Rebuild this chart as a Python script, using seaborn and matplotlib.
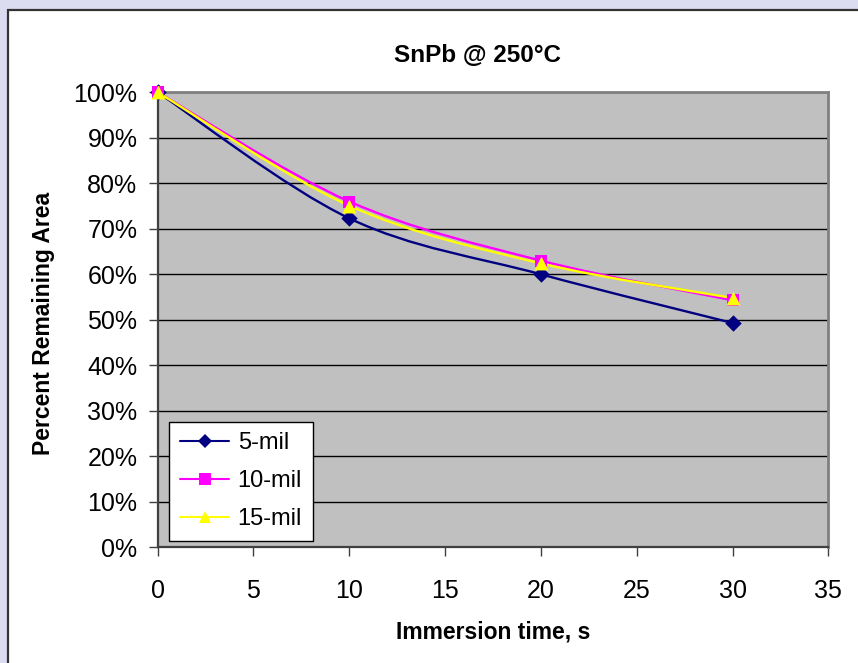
import numpy as np
import pandas as pd
import matplotlib
matplotlib.use("Agg")
import matplotlib.pyplot as plt
import seaborn as sns
from matplotlib.path import Path
from matplotlib.patches import PathPatch, Rectangle
from matplotlib.lines import Line2D
from matplotlib.ticker import PercentFormatter, FixedLocator

# Immersion times (s) and remaining area (%) for each trace width
times = [0, 10, 20, 30]
mil5 = [100.0, 72.3, 60.0, 49.3]
mil10 = [100.0, 76.0, 63.0, 54.3]
mil15 = [100.0, 75.1, 62.4, 54.8]
series_names = ["5-mil", "10-mil", "15-mil"]
x_ticks = [0, 5, 10, 15, 20, 25, 30, 35]
y_ticks = [0, 10, 20, 30, 40, 50, 60, 70, 80, 90, 100]

title = "SnPb @ 250°C"
x_label = "Immersion time, s"
y_label = "Percent Remaining Area"

colors = {"5-mil": "#000080", "10-mil": "#FF00FF", "15-mil": "#FFFF00"}
markers = {"5-mil": "D", "10-mil": "s", "15-mil": "^"}
marker_sizes = {"5-mil": 70, "10-mil": 70, "15-mil": 100}

sns.set_style("white")
plt.rcParams["font.family"] = ["Liberation Sans", "DejaVu Sans"]
plt.rcParams["text.color"] = "black"
plt.rcParams["xtick.color"] = "black"
plt.rcParams["ytick.color"] = "black"

df = pd.DataFrame({
    "time": times * 3,
    "pct": mil5 + mil10 + mil15,
    "series": [s for s in series_names for _ in times],
})

W, H = 858, 663
fig = plt.figure(figsize=(W / 100, H / 100), dpi=100)
fig.set_facecolor("#DCDCF0")

# white chart area with dark frame
frame = Rectangle((8 / W, -0.02), 1.05, (H - 10) / H + 0.02,
                  transform=fig.transFigure, facecolor="white",
                  edgecolor="#333333", linewidth=1.6, zorder=-10)
fig.patches.append(frame)

x0, x1 = 157.6, 828.4
y0, y1 = 547.3, 92.3
ax = fig.add_axes([x0 / W, 1 - y0 / H, (x1 - x0) / W, (y0 - y1) / H])
ax.set_zorder(1)
ax.set_facecolor("#C0C0C0")


def smooth_path(xs, ys):
    """Bezier path through the points, Catmull-Rom style smoothing."""
    pts = np.column_stack([xs, ys]).astype(float)
    n = len(pts)
    verts = [pts[0]]
    codes = [Path.MOVETO]
    for i in range(n - 1):
        p0 = pts[i - 1] if i > 0 else pts[i]
        p1 = pts[i]
        p2 = pts[i + 1]
        p3 = pts[i + 2] if i + 2 < n else pts[i + 1]
        verts += [p1 + (p2 - p0) / 6, p2 - (p3 - p1) / 6, p2]
        codes += [Path.CURVE4] * 3
    return Path(verts, codes)


for name in series_names:
    sub = df[df["series"] == name]
    ax.add_patch(PathPatch(smooth_path(sub["time"], sub["pct"]), fill=False,
                           edgecolor=colors[name], linewidth=1.7, zorder=3))
    sns.scatterplot(data=sub, x="time", y="pct", marker=markers[name],
                    color=colors[name], s=marker_sizes[name], linewidth=0,
                    ax=ax, legend=False, zorder=4, clip_on=False)

ax.set_xlim(0, 35)
ax.set_ylim(0, 100)
ax.xaxis.set_major_locator(FixedLocator(x_ticks))
ax.yaxis.set_major_locator(FixedLocator(y_ticks))
ax.yaxis.set_major_formatter(PercentFormatter(decimals=0))
ax.grid(axis="y", color="black", linewidth=1.0, zorder=1)
ax.grid(axis="x", visible=False)
ax.set_axisbelow(True)
ax.set_xlabel("")
ax.set_ylabel("")

for side in ("top", "right"):
    ax.spines[side].set_color("#808080")
    ax.spines[side].set_linewidth(2.0)
for side in ("left", "bottom"):
    ax.spines[side].set_color("#404040")
    ax.spines[side].set_linewidth(1.6)

ax.tick_params(axis="y", direction="out", length=6.5, width=1.0,
               color="#404040", labelcolor="black", pad=8, labelsize=18,
               left=True)
ax.tick_params(axis="x", direction="out", length=6.5, width=1.0,
               color="#404040", labelcolor="black", pad=16, labelsize=18,
               bottom=True)

handles = [Line2D([], [], color=colors[n], marker=markers[n], linewidth=1.5,
                  markersize=8 if n != "5-mil" else 7, markeredgewidth=0)
           for n in series_names]
leg = ax.legend(handles, series_names, loc="lower left",
                bbox_to_anchor=(0.0174, 0.0138), fontsize=17,
                frameon=True, fancybox=False, framealpha=1,
                edgecolor="black", borderpad=0.45, handlelength=2.1,
                handletextpad=0.35, labelspacing=0.68, borderaxespad=0)
leg.get_frame().set_linewidth(1.0)
for t in leg.get_texts():
    t.set_color("black")

fig.text(478 / W, 1 - 62 / H, title, ha="center", va="baseline",
         fontsize=17.5, fontweight="bold", color="black")
fig.text(493 / W, 1 - 632 / H, x_label, ha="center", va="center",
         fontsize=16.5, fontweight="bold", color="black")
fig.text(44 / W, 1 - 323 / H, y_label, ha="center", va="center",
         rotation=90, fontsize=16.5, fontweight="bold", color="black")

fig.savefig("out.png", dpi=100, facecolor=fig.get_facecolor())
